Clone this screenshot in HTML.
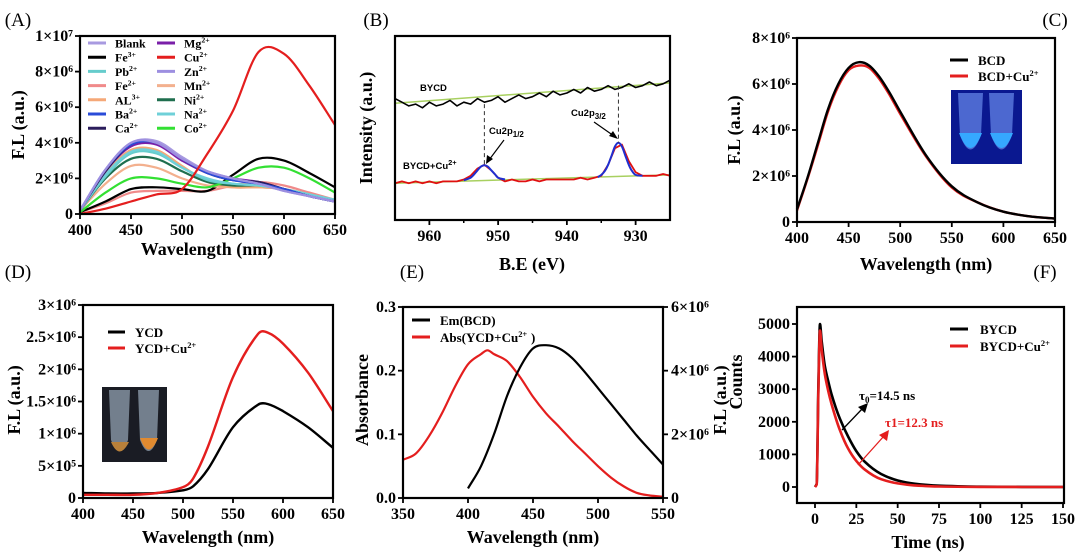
<!DOCTYPE html>
<html><head><meta charset="utf-8"><style>
html,body{margin:0;padding:0;background:#fff;}
svg{display:block;font-family:"Liberation Serif",serif;font-weight:bold;}
.sans{font-family:"Liberation Sans",sans-serif;}
</style></head><body>
<svg id="fig" width="1080" height="560" viewBox="0 0 1080 560" xmlns="http://www.w3.org/2000/svg"></svg>
<script>
// ---------- Panel A data (values in 1e6) ----------
const A_x=[400,425,450,475,500,525,550,575,600,625,650];
const A_blank=[0.2,2.5,4.0,4.1,3.2,2.4,2.0,1.7,1.3,1.0,0.7];
const A_fe3=[0.1,0.7,1.4,1.5,1.4,1.3,2.2,3.1,3.0,2.3,1.5];
const A_pb=[0.2,2.1,3.4,3.4,2.6,1.9,1.7,1.6,1.4,1.1,0.8];
const A_fe2=[0.1,0.6,1.2,1.3,1.3,1.3,1.6,1.8,1.6,1.2,0.8];
const A_al=[0.2,2.3,3.6,3.6,2.7,1.8,1.5,1.5,1.4,1.1,0.8];
const A_ba=[0.2,2.5,3.9,4.0,3.1,2.3,1.9,1.7,1.4,1.0,0.7];
const A_ca=[0.2,2.4,3.9,4.0,3.1,2.3,1.9,1.8,1.4,1.0,0.7];
const A_mg=[0.2,2.4,3.8,3.9,3.0,2.3,2.0,1.8,1.4,1.0,0.7];
const A_cu=[0.0,0.3,0.7,1.1,1.4,3.4,5.8,9.1,9.0,7.2,5.0];
const A_zn=[0.2,2.5,4.0,4.0,3.1,2.4,2.0,1.7,1.3,1.0,0.7];
const A_mn=[0.2,1.7,2.7,2.6,2.0,1.6,1.5,1.5,1.4,1.1,0.8];
const A_ni=[0.2,2.0,3.1,3.1,2.4,1.8,1.6,1.6,1.4,1.0,0.7];
const A_na=[0.2,2.2,3.5,3.5,2.6,2.0,1.7,1.6,1.4,1.1,0.8];
const A_co=[0.1,1.2,2.0,2.0,1.7,1.5,2.0,2.6,2.6,2.0,1.2];
const A_names=["Blank","Fe","Pb","Fe","AL","Ba","Ca","Mg","Cu","Zn","Mn","Ni","Na","Co"];
const A_sups=["","3+","2+","2+","3+","2+","2+","2+","2+","2+","2+","2+","2+","2+"];
const A_xticks=[400,450,500,550,600,650];
const A_yticks=[0,2,4,6,8,10];
const A_ylabels=["0","2×10⁶","4×10⁶","6×10⁶","8×10⁶","1×10⁷"];
// ---------- Panel B data ----------
const B_x=[965,964,963,962,961,960,959,958,957,956,955,954,953,952,951,950,949,948,947,946,945,944,943,942,941,940,939,938,937,936,935,934,933,932,931,930,929,928,927,926,925];
const B_bycd=[66,64,62,63,61,64,62,63,65,62,64,63,66,64,65,67,64,66,68,66,67,69,67,70,68,69,71,69,72,70,71,73,71,72,74,72,73,75,73,74,76];
const B_cu=[20,21,20,21,20,21,20,21,21,21,22,24,28,30,27,23,21,22,21,21,22,21,22,22,22,22,22,23,22,23,24,30,39,41,32,26,24,24,24,25,24];
const B_fit1x=[955,954,953.5,953,952.5,952,951.5,951,950.5,950,949];
const B_fit1y=[21.6,23,24.8,27,29,29.8,29,27,25,23,22];
const B_fit2x=[935.5,935,934.5,934,933.5,933,932.5,932,931.5,931,930.5,930,929];
const B_fit2y=[23.3,24.5,26.5,30,35,40,42,40,35,30,26.5,24.5,24];
const B_xticks=[960,950,940,930];
// ---------- Panel C data ----------
const C_x=[400,410,420,430,440,450,460,470,480,490,500,525,550,575,600,625,650];
const C_bcd=[0.55,1.9,3.4,4.9,6.0,6.7,6.95,6.8,6.3,5.6,4.8,2.9,1.55,0.85,0.45,0.25,0.15];
const C_bcdcu=[0.5,1.85,3.3,4.8,5.9,6.6,6.8,6.7,6.2,5.5,4.7,2.85,1.5,0.85,0.45,0.25,0.15];
const C_xticks=[400,450,500,550,600,650];
const C_yticks=[0,2,4,6,8];
const C_ylabels=["0","2×10⁶","4×10⁶","6×10⁶","8×10⁶"];
// ---------- Panel D data ----------
const D_x=[400,425,450,475,500,510,525,550,575,585,600,625,650];
const D_ycd=[0.08,0.07,0.07,0.08,0.12,0.18,0.45,1.1,1.45,1.46,1.35,1.1,0.78];
const D_ycdcu=[0.05,0.05,0.05,0.08,0.17,0.3,0.8,1.88,2.55,2.57,2.4,1.95,1.35];
const D_xticks=[400,450,500,550,600,650];
const D_yticks=[0,0.5,1,1.5,2,2.5,3];
const D_ylabels=["0","5×10⁵","1×10⁶","1.5×10⁶","2×10⁶","2.5×10⁶","3×10⁶"];
// ---------- Panel E data ----------
const E_emx=[400,410,420,430,440,450,460,470,480,490,500,510,520,530,540,550];
const E_em=[0.3,1.0,2.0,3.2,4.1,4.7,4.8,4.7,4.4,3.95,3.45,2.95,2.45,1.95,1.5,1.05];
const E_absx=[350,360,370,380,390,400,410,415,420,430,440,450,460,470,480,490,500,510,520,530,540,550];
const E_abs=[0.06,0.07,0.097,0.133,0.175,0.21,0.226,0.232,0.226,0.215,0.19,0.159,0.133,0.112,0.09,0.07,0.05,0.032,0.018,0.008,0.004,0.002];
const E_xticks=[350,400,450,500,550];
const E_lticks=[0,0.1,0.2,0.3];
const E_llabels=["0.0","0.1","0.2","0.3"];
const E_rticks=[0,2,4,6];
const E_rlabels=["0","2×10⁶","4×10⁶","6×10⁶"];
// ---------- Panel F data ----------
const F_t=[0,1,2,3,4,6,8,10,15,20,25,30,40,50,60,75,100,150];
const F_bycd=[0,100,3000,5000,4500,3700,3250,2850,2100,1550,1100,780,400,200,100,40,8,0];
const F_bycdcu=[0,80,2800,4800,4250,3450,2950,2550,1750,1180,800,540,240,110,50,15,3,0];
const F_xticks=[0,25,50,75,100,125,150];
const F_yticks=[0,1000,2000,3000,4000,5000];

const svg=document.getElementById('fig');
const NS='http://www.w3.org/2000/svg';
function mk(tag,attrs,parent){const e=document.createElementNS(NS,tag);for(const k in attrs)e.setAttribute(k,attrs[k]);(parent||svg).appendChild(e);return e;}
function lin(d0,d1,r0,r1){return v=>r0+(v-d0)*(r1-r0)/(d1-d0);}
// cubic Hermite in pixel space; mono=true uses Fritsch-Carlson limiting
function smooth(pts,mono){
  const n=pts.length;
  const dx=[],s=[];
  for(let i=0;i<n-1;i++){dx.push(pts[i+1][0]-pts[i][0]);s.push((pts[i+1][1]-pts[i][1])/dx[i]);}
  const m=new Array(n);
  m[0]=s[0];m[n-1]=s[n-2];
  for(let i=1;i<n-1;i++){
    if(mono){
      if(s[i-1]*s[i]<=0)m[i]=0;
      else{const w1=2*dx[i]+dx[i-1],w2=dx[i]+2*dx[i-1];m[i]=(w1+w2)/(w1/s[i-1]+w2/s[i]);}
    } else {
      m[i]=(pts[i+1][1]-pts[i-1][1])/(pts[i+1][0]-pts[i-1][0]);
    }
  }
  let d='M'+pts[0][0].toFixed(1)+','+pts[0][1].toFixed(1);
  for(let i=0;i<n-1;i++){
    const h=dx[i]/3;
    d+='C'+(pts[i][0]+h).toFixed(1)+','+(pts[i][1]+m[i]*h).toFixed(1)+' '+(pts[i+1][0]-h).toFixed(1)+','+(pts[i+1][1]-m[i+1]*h).toFixed(1)+' '+pts[i+1][0].toFixed(1)+','+pts[i+1][1].toFixed(1);
  }
  return d;
}
function series(xs,ys,sx,sy,color,w,name,isSmooth,mono){
  const pts=xs.map((x,i)=>[sx(x),sy(ys[i])]);
  const d=isSmooth?smooth(pts,mono):'M'+pts.map(p=>p[0].toFixed(1)+','+p[1].toFixed(1)).join('L');
  const p=mk('path',{d:d,fill:'none',stroke:color,'stroke-width':w,'stroke-linejoin':'round'});
  
  
  return p;
}
function txt(x,y,s,size,anchor,name,extra){
  const t=mk('text',Object.assign({x:x,y:y,'font-size':size,'text-anchor':anchor||'middle'},extra||{}));
  t.textContent=s;
  
  
  return t;
}
function frame(L,R,T,B,name){
  const r=mk('rect',{x:L,y:T,width:R-L,height:B-T,fill:'none',stroke:'#000','stroke-width':2.2});
  
  
}
function xAxis(ticks,labels,sx,B,name,minor){
  ticks.forEach((v,i)=>{
    mk('line',{x1:sx(v),x2:sx(v),y1:B,y2:B+5,stroke:'#000','stroke-width':1.8});
    txt(sx(v),B+21,labels[i],16,'middle',name+'-tick-label');
  });
  (minor||[]).forEach(v=>mk('line',{x1:sx(v),x2:sx(v),y1:B,y2:B+3,stroke:'#000','stroke-width':1.5}));
}
function yAxis(ticks,labels,sy,L,name,right){
  ticks.forEach((v,i)=>{
    const y=sy(v);
    mk('line',{x1:L,x2:right?L+5:L-5,y1:y,y2:y,stroke:'#000','stroke-width':1.8});
    txt(right?L+8:L-7,y+5,labels[i],16,right?'start':'end',name+'-tick-label');
  });
}
function ytitle(x,y,s,name,size){
  txt(x,y,s,size||18,'middle',name,{transform:'rotate(-90 '+x+' '+y+')'});
}
function legendLine(x1,x2,y,color,name){
  const l=mk('line',{x1:x1,x2:x2,y1:y,y2:y,stroke:color,'stroke-width':3});
  
  
}
function supText(x,y,base,sup,size,name,color){
  const t=mk('text',{x:x,y:y,'font-size':size,fill:color||'#000'});
  
  
  const a=mk('tspan',{},t);a.textContent=base;
  if(sup){const b=mk('tspan',{'font-size':size*0.65,dy:-size*0.4},t);b.textContent=sup;}
  return t;
}

// ===== Panel labels =====
txt(18,26,'(A)',19,'middle','panel-label-a',{'font-weight':'normal'});
txt(376,26,'(B)',19,'middle','panel-label-b',{'font-weight':'normal'});
txt(1055,26,'(C)',19,'middle','panel-label-c',{'font-weight':'normal'});
txt(18,278,'(D)',19,'middle','panel-label-d',{'font-weight':'normal'});
txt(412,278,'(E)',19,'middle','panel-label-e',{'font-weight':'normal'});
txt(1045,278,'(F)',19,'middle','panel-label-f',{'font-weight':'normal'});

// ===== Panel A =====
(function(){
  const L=80,R=335,T=36,B=214;
  const sx=lin(400,650,L,R), sy=lin(0,10,B,T);
  const list=[[A_blank,'#a89ae0'],[A_fe3,'#000'],[A_pb,'#66cccc'],[A_fe2,'#f08a8a'],[A_al,'#f5a878'],[A_ba,'#2a4bd8'],[A_ca,'#2b1d5c'],[A_mg,'#7a1fa8'],[A_cu,'#e41e1e'],[A_zn,'#9d8fe0'],[A_mn,'#f3b08e'],[A_ni,'#1f6e4e'],[A_na,'#6fd0d8'],[A_co,'#33e033']];
  const order=[3,1,10,4,11,13,2,12,7,6,5,0,9,8];
  order.forEach(i=>series(A_x,list[i][0],sx,sy,list[i][1],2.2,'a-line-'+A_names[i].toLowerCase()+(A_sups[i]?'-'+A_sups[i][0]:''),true));
  frame(L,R,T,B,'a-plot-frame');
  xAxis(A_xticks,A_xticks.map(String),sx,B,'a-x');
  yAxis(A_yticks,A_ylabels,sy,L,'a-y');
  txt(207,255,'Wavelength (nm)',18,'middle','a-x-axis-title');
  ytitle(24,125,'F.L (a.u.)','a-y-axis-title');
  for(let i=0;i<14;i++){
    const col=i<7?0:1, row=i%7;
    const x=col?157:88, y=43+row*14.2;
    legendLine(x,x+18,y,list[i][1],'a-legend-swatch');
    supText(x+27,y+4.5,A_names[i],A_sups[i],12,'a-legend-entry');
  }
})();

// ===== Panel B =====
(function(){
  const L=395,R=670,T=36,B=220;
  const sx=lin(965,925,L,R), sy=lin(0,100,B,T);
  series([965,925],[63.5,74.5],sx,sy,'#a8d060',1.5,'b-bycd-baseline',false);
  series(B_x,B_bycd,sx,sy,'#000',1.6,'b-bycd-spectrum',false);
  series([965,925],[20,24.5],sx,sy,'#a8d060',1.5,'b-cu-baseline',false);
  series(B_x,B_cu,sx,sy,'#e01010',1.8,'b-bycd-cu-spectrum',false);
  series(B_fit1x,B_fit1y,sx,sy,'#1f2fd0',2,'b-fit-cu2p12',true);
  series(B_fit2x,B_fit2y,sx,sy,'#1f2fd0',2,'b-fit-cu2p32',true);
  mk('line',{x1:sx(952),x2:sx(952),y1:sy(63),y2:sy(29.8),stroke:'#333','stroke-width':1,'stroke-dasharray':'4,3'});
  mk('line',{x1:sx(932.5),x2:sx(932.5),y1:sy(73),y2:sy(42),stroke:'#333','stroke-width':1,'stroke-dasharray':'4,3'});
  frame(L,R,T,B,'b-plot-frame');
  xAxis(B_xticks,B_xticks.map(String),sx,B,'b-x',[955,945,935]);
  txt(532,270,'B.E (eV)',18,'middle','b-x-axis-title');
  ytitle(372,128,'Intensity (a.u.)','b-y-axis-title');
  const g=mk('g',{class:'sans'});
  
  
  const t1=mk('text',{x:420,y:91,'font-size':9.5},g);t1.textContent='BYCD';
  const t2=mk('text',{x:403,y:169,'font-size':9.5},g);t2.textContent='BYCD+Cu';
  const t2s=mk('tspan',{dy:-4,'font-size':7.5},t2);t2s.textContent='2+';
  const t3=mk('text',{x:489,y:134,'font-size':9.5},g);t3.textContent='Cu2p';
  const t3s=mk('tspan',{dy:3,'font-size':8},t3);t3s.textContent='1/2';
  const t4=mk('text',{x:571,y:116,'font-size':9.5},g);t4.textContent='Cu2p';
  const t4s=mk('tspan',{dy:3,'font-size':8},t4);t4s.textContent='3/2';
  mk('line',{x1:504,y1:140,x2:489,y2:160,stroke:'#000','stroke-width':1.2},g);
  mk('polygon',{points:'486,164 487,155 493,159',fill:'#000'},g);
  mk('line',{x1:594,y1:122,x2:614,y2:136,stroke:'#000','stroke-width':1.2},g);
  mk('polygon',{points:'618,139 609,136 613,131',fill:'#000'},g);
})();

// ===== Panel C =====
(function(){
  const L=797,R=1055,T=38,B=222;
  const sx=lin(400,650,L,R), sy=lin(0,8,B,T);
  series(C_x,C_bcdcu,sx,sy,'#e41e1e',2.4,'c-line-bcd-cu',true);
  series(C_x,C_bcd,sx,sy,'#000',2.4,'c-line-bcd',true);
  frame(L,R,T,B,'c-plot-frame');
  xAxis(C_xticks,C_xticks.map(String),sx,B,'c-x');
  yAxis(C_yticks,C_ylabels,sy,L,'c-y');
  txt(926,270,'Wavelength (nm)',18,'middle','c-x-axis-title');
  ytitle(740,130,'F.L (a.u.)','c-y-axis-title');
  legendLine(950,968,60,'#000','c-legend-swatch-bcd');
  supText(978,65,'BCD','',13,'c-legend-bcd');
  legendLine(950,968,76,'#e41e1e','c-legend-swatch-bcd-cu');
  supText(978,81,'BCD+Cu','2+',13,'c-legend-bcd-cu');
  const g=mk('g',{});
  
  
  mk('rect',{x:951,y:90,width:71,height:74,fill:'#0a1890'},g);
  [[958,983],[989,1014]].forEach(p=>{
    mk('path',{d:`M${p[0]},93 L${p[1]},93 L${p[1]-2},135 Q${(p[0]+p[1])/2},164 ${p[0]+2},135 Z`,fill:'#5d7de0',opacity:0.8},g);
    mk('path',{d:`M${p[0]+1},133 L${p[1]-1},133 Q${(p[0]+p[1])/2},163 ${p[0]+1},133 Z`,fill:'#35a8ff'},g);
  });
})();

// ===== Panel D =====
(function(){
  const L=83,R=333,T=305,B=498;
  const sx=lin(400,650,L,R), sy=lin(0,3,B,T);
  series(D_x,D_ycd,sx,sy,'#000',2.4,'d-line-ycd',true);
  series(D_x,D_ycdcu,sx,sy,'#e41e1e',2.4,'d-line-ycd-cu',true);
  frame(L,R,T,B,'d-plot-frame');
  xAxis(D_xticks,D_xticks.map(String),sx,B,'d-x');
  yAxis(D_yticks,D_ylabels,sy,L,'d-y');
  txt(208,543,'Wavelength (nm)',18,'middle','d-x-axis-title');
  ytitle(20,400,'F.L (a.u.)','d-y-axis-title');
  legendLine(108,125,332,'#000','d-legend-swatch-ycd');
  supText(135,337,'YCD','',13,'d-legend-ycd');
  legendLine(108,125,348,'#e41e1e','d-legend-swatch-ycd-cu');
  supText(135,353,'YCD+Cu','2+',13,'d-legend-ycd-cu');
  const g=mk('g',{});
  
  
  mk('rect',{x:102,y:387,width:65,height:75,fill:'#1a1c24'},g);
  [[109,130],[138,159]].forEach((p,i)=>{
    mk('path',{d:`M${p[0]},390 L${p[1]},390 L${p[1]-2},440 Q${(p[0]+p[1])/2},462 ${p[0]+2},440 Z`,fill:'#8a98a8',opacity:0.8},g);
    mk('path',{d:`M${p[0]+1},${442-i*4} L${p[1]-1},${442-i*4} Q${(p[0]+p[1])/2},461 ${p[0]+2},${442-i*4} Z`,fill:i?'#e08a30':'#b8803a'},g);
  });
})();

// ===== Panel E =====
(function(){
  const L=403,R=663,T=307,B=498;
  const sx=lin(350,550,L,R), syl=lin(0,0.3,B,T), syr=lin(0,6,B,T);
  series(E_absx,E_abs,sx,syl,'#e41e1e',2.2,'e-line-abs-ycd-cu',true);
  series(E_emx,E_em,sx,syr,'#000',2.2,'e-line-em-bcd',true);
  frame(L,R,T,B,'e-plot-frame');
  xAxis(E_xticks,E_xticks.map(String),sx,B,'e-x');
  yAxis(E_lticks,E_llabels,syl,L,'e-y-left');
  yAxis(E_rticks,E_rlabels,syr,R,'e-y-right',true);
  txt(533,543,'Wavelength (nm)',18,'middle','e-x-axis-title');
  ytitle(368,400,'Absorbance','e-y-axis-title');
  legendLine(412,430,320,'#000','e-legend-swatch-em');
  supText(440,325,'Em(BCD)','',13,'e-legend-em');
  legendLine(412,430,337,'#e41e1e','e-legend-swatch-abs');
  supText(440,342,'Abs(YCD+Cu','2+',13,'e-legend-abs');
  txt(531,342,')',13,'start','e-legend-abs-paren');
  ytitle(726,400,'F.L (a.u.)','e-y-right-axis-title');
})();

// ===== Panel F =====
(function(){
  const L=797,R=1064,T=307,B=503;
  const sx=lin(0,150,815,1063), sy=lin(0,5000,487,324);
  series(F_t,F_bycd,sx,sy,'#000',2.6,'f-line-bycd',true,true);
  series(F_t,F_bycdcu,sx,sy,'#e41e1e',2.6,'f-line-bycd-cu',true,true);
  frame(L,R,T,B,'f-plot-frame');
  xAxis(F_xticks,F_xticks.map(String),sx,B,'f-x');
  yAxis(F_yticks,F_yticks.map(String),sy,L,'f-y');
  txt(928,548,'Time (ns)',18,'middle','f-x-axis-title');
  ytitle(742,382,'Counts','f-y-axis-title');
  legendLine(950,968,329,'#000','f-legend-swatch-bycd');
  supText(980,334,'BYCD','',13,'f-legend-bycd');
  legendLine(950,968,346,'#e41e1e','f-legend-swatch-bycd-cu');
  supText(980,351,'BYCD+Cu','2+',13,'f-legend-bycd-cu');
  const a=mk('text',{x:859,y:400,'font-size':13});
  
  
  const a1=mk('tspan',{},a);a1.textContent='τ';
  const a2=mk('tspan',{'font-size':9,dy:3},a);a2.textContent='0';
  const a3=mk('tspan',{dy:-3},a);a3.textContent='=14.5 ns';
  mk('line',{x1:842,y1:430,x2:863,y2:408,stroke:'#000','stroke-width':1.3});
  mk('polygon',{points:'868,403 865,413 858,407',fill:'#000'});
  const b=mk('text',{x:885,y:427,'font-size':13,fill:'#e41e1e'});
  
  
  b.textContent='τ1=12.3 ns';
  mk('line',{x1:858,y1:465,x2:884,y2:436,stroke:'#e41e1e','stroke-width':1.3});
  mk('polygon',{points:'889,430 887,441 879,435',fill:'#e41e1e'});
})();
</script>
</body></html>
